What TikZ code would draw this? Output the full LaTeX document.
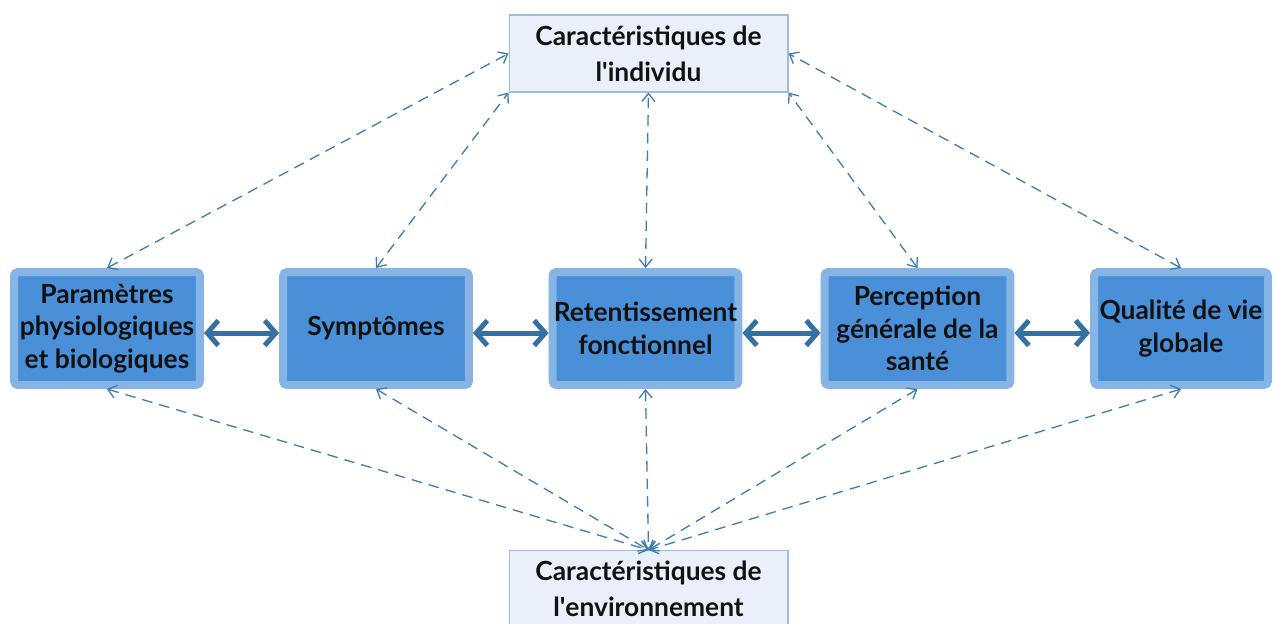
\documentclass[tikz,border=0pt]{standalone}
\usepackage{fontspec}
\setmainfont{Lato}
\usetikzlibrary{arrows.meta,calc}
\definecolor{boxfill}{HTML}{4A90D9}
\definecolor{boxrim}{HTML}{86B4E4}
\definecolor{darkarrow}{HTML}{3570A3}
\definecolor{dasharrow}{HTML}{3E7CB3}
\definecolor{lightfill}{HTML}{EAF0F9}
\definecolor{lightrim}{HTML}{9FBBDD}
\definecolor{txt}{HTML}{111111}
\begin{document}
\begin{tikzpicture}[x=0.02cm,y=-0.02cm,
  mainbox/.style={draw=boxrim, fill=boxfill, line width=0.16cm, rounded corners=0.08cm,
    minimum width=3.72cm, minimum height=2.26cm, inner sep=0pt, align=center,
    text=txt, font=\fontsize{15}{18.5}\selectfont\bfseries},
  charbox/.style={draw=lightrim, fill=lightfill, line width=0.6pt,
    minimum width=5.58cm, inner sep=0pt, align=center,
    text=txt, font=\fontsize{15}{20.5}\selectfont\bfseries},
  biarrow/.style={draw=darkarrow, line width=0.1cm, line cap=round, line join=round,
    {Straight Barb[length=0.22cm,width=0.5cm]}-{Straight Barb[length=0.22cm,width=0.5cm]}},
  dasharr/.style={draw=dasharrow, line width=0.75pt, dash pattern=on 6pt off 4pt,
    {Straight Barb[length=0.16cm,width=0.26cm]}-{Straight Barb[length=0.16cm,width=0.26cm]}}
]
\useasboundingbox (0,0) rectangle (1274,623);

% top and bottom characteristic boxes
\node[charbox, minimum height=1.54cm] (ind) at (648.5,53.5) {Caractéristiques de\\l\textquotesingle individu};
\node[charbox, minimum height=2.0cm, anchor=north] (env) at (648.5,550) {};
\node[text=txt, font=\fontsize{15}{20.5}\selectfont\bfseries, align=center] (envtxt) at (648.5,589) {Caractéristiques de\\l\textquotesingle environnement};

% main boxes
\node[mainbox] (b1) at (107,328.5) {Paramètres\\physiologiques\\et biologiques};
\node[mainbox] (b2) at (376,328.5) {Symptômes};
\node[mainbox] (b3) at (645.5,328.5) {Retentissement\\fonctionnel};
\node[mainbox] (b4) at (917.5,328.5) {Perception\\générale de la\\santé};
\node[mainbox, minimum width=3.48cm] (b5) at (1181,328.5) {Qualité de vie\\globale};

% thick double arrows
\draw[biarrow] ([yshift=-0.09cm]b1.east) -- ([yshift=-0.09cm]b2.west);
\draw[biarrow] ([yshift=-0.09cm]b2.east) -- ([yshift=-0.09cm]b3.west);
\draw[biarrow] ([yshift=-0.09cm]b3.east) -- ([yshift=-0.09cm]b4.west);
\draw[biarrow] ([yshift=-0.09cm]b4.east) -- ([yshift=-0.09cm]b5.west);

% dashed arrows to individual characteristics
\draw[dasharr] (b1.north) -- (ind.west);
\draw[dasharr] (b2.north) -- (ind.south west);
\draw[dasharr] (b3.north) -- (ind.south);
\draw[dasharr] (b4.north) -- (ind.south east);
\draw[dasharr] (b5.north) -- (ind.east);

% dashed arrows to environment characteristics
\draw[dasharr] (b1.south) -- (env.north);
\draw[dasharr] (b2.south) -- (env.north);
\draw[dasharr] (b3.south) -- (env.north);
\draw[dasharr] (b4.south) -- (env.north);
\draw[dasharr] (b5.south) -- (env.north);
\end{tikzpicture}
\end{document}
